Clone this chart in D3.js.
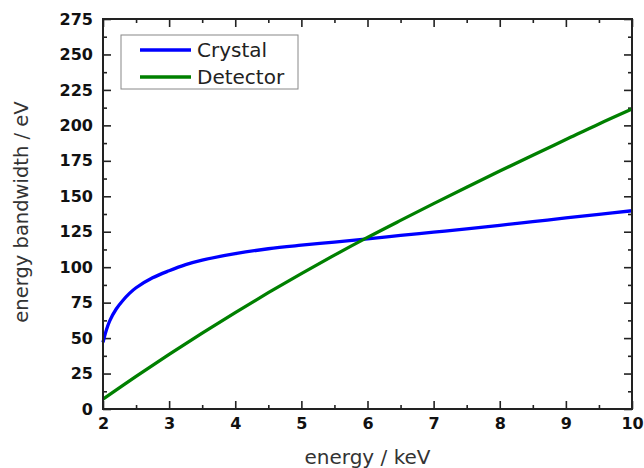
<!DOCTYPE html>
<html>
<head>
<meta charset="utf-8">
<script src="https://cdn.jsdelivr.net/npm/d3@7"></script>
<style>
  body { margin: 0; background: #fff; }
  svg { display: block; font-family: "DejaVu Sans", sans-serif; }
</style>
</head>
<body>
<svg width="644" height="468"></svg>
<script>
// energy grid (keV) and bandwidths (eV)
const crystalE = [2, 2.05, 2.1, 2.2, 2.3, 2.4, 2.5, 2.75, 3, 3.25, 3.5, 4, 4.5, 5, 5.5, 6, 6.5, 7, 7.5, 8, 8.5, 9, 9.5, 10];
const crystalBW = [47, 55.5, 62, 70.5, 76.5, 81.5, 85.5, 92.5, 97.5, 101.8, 105, 109.5, 113, 115.5, 117.7, 120, 122.4, 124.7, 127, 129.5, 132.1, 134.7, 137.2, 139.8];

const detectorE = [2, 2.5, 3, 3.5, 4, 4.5, 5, 5.5, 6, 6.5, 7, 7.5, 8, 8.5, 9, 9.5, 10];
const detectorBW = [7, 23, 38.5, 53.5, 68, 82, 95.5, 108.5, 121, 133, 144.8, 156.4, 167.8, 179, 190, 201, 211.5];

const xTicks = [2, 3, 4, 5, 6, 7, 8, 9, 10];
const yTicks = [0, 25, 50, 75, 100, 125, 150, 175, 200, 225, 250, 275];

const seriesNames = ["Crystal", "Detector"];
const seriesColors = ["#0000ff", "#008000"];

var svg = d3.select("svg");

// plot frame (pixel edges)
var plotL = 103, plotR = 632, plotT = 19, plotB = 409;

var x = d3.scaleLinear().domain([2, 10]).range([plotL, plotR]);
var y = d3.scaleLinear().domain([0, 275]).range([plotB, plotT]);

var xMinor = d3.range(2.5, 10, 1);
var yMinor = d3.range(12.5, 275, 25);

// draws an axis at (tx, ty), inward ticks, no domain line
function addAxis(axis, tx, ty) {
    var g = svg.append("g")
        .attr("transform", "translate(" + tx + "," + ty + ")")
        .call(axis);
    g.select(".domain").remove();
    g.selectAll("line").attr("stroke", "#222").attr("stroke-width", 1.6);
    return g;
}

// minor ticks
addAxis(d3.axisBottom(x).tickValues(xMinor).tickFormat("").tickSize(-4), 0, plotB);
addAxis(d3.axisTop(x).tickValues(xMinor).tickFormat("").tickSize(-4), 0, plotT);
addAxis(d3.axisLeft(y).tickValues(yMinor).tickFormat("").tickSize(-4), plotL, 0);
addAxis(d3.axisRight(y).tickValues(yMinor).tickFormat("").tickSize(-4), plotR, 0);

// major ticks, labels on bottom and left only
var xAxis = addAxis(d3.axisBottom(x).tickValues(xTicks).tickFormat(d3.format("d")).tickSize(-8).tickPadding(9), 0, plotB);
addAxis(d3.axisTop(x).tickValues(xTicks).tickFormat("").tickSize(-8), 0, plotT);
var yAxis = addAxis(d3.axisLeft(y).tickValues(yTicks).tickFormat(d3.format("d")).tickSize(-8).tickPadding(10), plotL, 0);
addAxis(d3.axisRight(y).tickValues(yTicks).tickFormat("").tickSize(-8), plotR, 0);

[xAxis, yAxis].forEach(function (g) {
    g.attr("font-size", null).attr("font-family", null);
    g.selectAll("text")
        .attr("fill", "#111")
        .style("font-family", "'DejaVu Sans', sans-serif")
        .style("font-size", "16px")
        .style("font-weight", "bold");
});

// curves
var line = d3.line()
    .x(function (d) { return x(d[0]); })
    .y(function (d) { return y(d[1]); })
    .curve(d3.curveCatmullRom.alpha(0.5));

var series = [
    d3.zip(crystalE, crystalBW),
    d3.zip(detectorE, detectorBW)
];

svg.append("g")
    .selectAll("path")
    .data(series)
    .enter()
    .append("path")
    .attr("d", line)
    .attr("fill", "none")
    .attr("stroke", function (d, i) { return seriesColors[i]; })
    .attr("stroke-width", 3.3)
    .attr("stroke-linejoin", "round");

// frame box
svg.append("rect")
    .attr("x", plotL)
    .attr("y", plotT)
    .attr("width", plotR - plotL)
    .attr("height", plotB - plotT)
    .attr("fill", "none")
    .attr("stroke", "#222")
    .attr("stroke-width", 2);

// legend
var legend = svg.append("g").attr("transform", "translate(121,35)");
legend.append("rect")
    .attr("width", 177)
    .attr("height", 54)
    .attr("fill", "#fff")
    .attr("stroke", "#888")
    .attr("stroke-width", 1);

var item = legend.selectAll(".item")
    .data(seriesNames)
    .enter()
    .append("g")
    .attr("class", "item")
    .attr("transform", function (d, i) { return "translate(0," + (15 + i * 27) + ")"; });

item.append("line")
    .attr("x1", 19)
    .attr("x2", 70)
    .attr("stroke", function (d, i) { return seriesColors[i]; })
    .attr("stroke-width", 3.3);

item.append("text")
    .attr("x", 76)
    .attr("dy", "0.35em")
    .attr("fill", "#222")
    .style("font-size", "20px")
    .text(function (d) { return d; });

// axis titles
svg.append("text")
    .attr("x", (plotL + plotR) / 2)
    .attr("y", 464)
    .attr("text-anchor", "middle")
    .attr("fill", "#333")
    .style("font-size", "20px")
    .text("energy / keV");

svg.append("text")
    .attr("transform", "translate(28,212) rotate(-90)")
    .attr("text-anchor", "middle")
    .attr("fill", "#333")
    .style("font-size", "19.5px")
    .text("energy bandwidth / eV");
</script>
</body>
</html>
